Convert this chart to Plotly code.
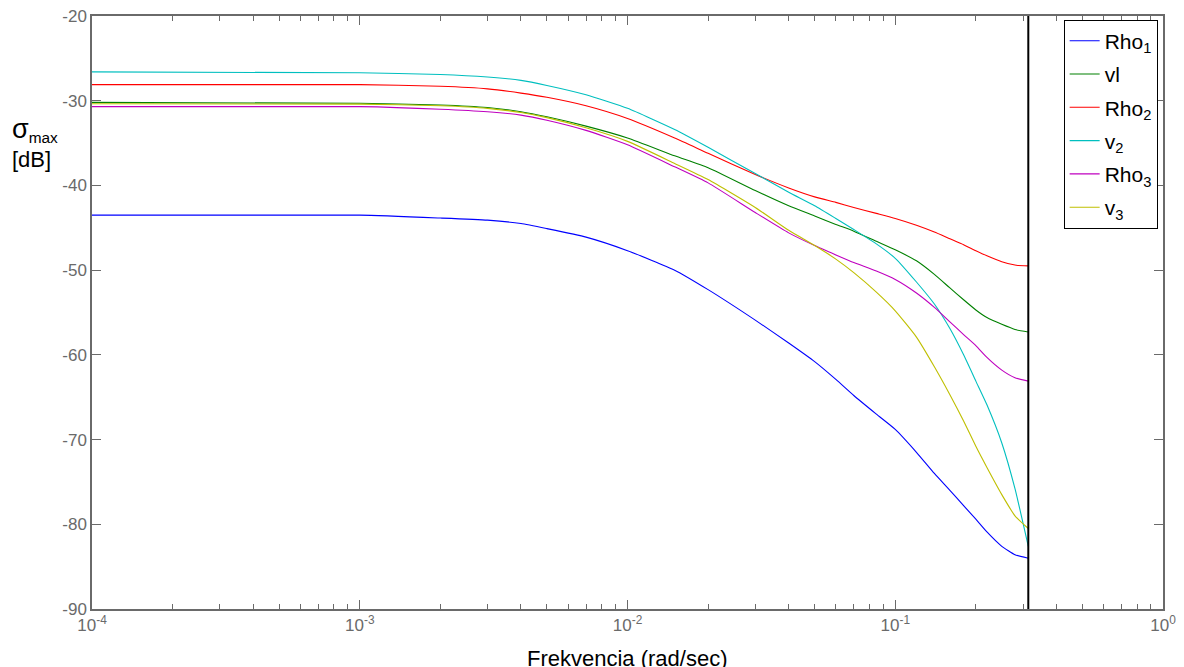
import plotly.graph_objects as go

freq = [1e-4, 1e-3, 2e-3, 3e-3, 4e-3, 5e-3, 7e-3, 1e-2, 1.5e-2, 2e-2, 3e-2, 4e-2,
        5e-2, 6e-2, 7e-2, 8.5e-2, 0.1, 0.12, 0.14, 0.16, 0.18, 0.2, 0.22, 0.25, 0.28, 0.314]

rho1 = [-43.5, -43.5, -43.85, -44.1, -44.5, -45.1, -46.1, -47.7, -50.0, -52.3, -55.9, -58.6,
        -60.8, -62.9, -64.8, -67.0, -68.8, -71.5, -74.0, -76.0, -77.8, -79.4, -80.9, -82.6, -83.6, -84.0]
v1 = [-30.2, -30.3, -30.5, -30.8, -31.3, -31.9, -33.0, -34.4, -36.5, -37.9, -40.6, -42.4,
      -43.6, -44.6, -45.4, -46.6, -47.6, -48.9, -50.5, -52.1, -53.5, -54.7, -55.6, -56.4, -57.0, -57.3]
rho2 = [-28.1, -28.1, -28.3, -28.6, -29.1, -29.6, -30.6, -32.1, -34.4, -36.2, -38.7, -40.3,
        -41.35, -42.0, -42.6, -43.3, -43.9, -44.7, -45.5, -46.3, -47.0, -47.7, -48.3, -49.0, -49.4, -49.5]
v2 = [-26.6, -26.7, -26.9, -27.2, -27.6, -28.2, -29.3, -30.9, -33.4, -35.5, -38.6, -40.8,
      -42.4, -43.9, -45.2, -46.9, -48.6, -51.4, -54.0, -56.9, -60.0, -63.1, -65.9, -70.4, -75.8, -82.6]
rho3 = [-30.7, -30.7, -31.0, -31.3, -31.7, -32.3, -33.5, -35.2, -37.8, -39.7, -43.2, -45.6,
        -47.1, -48.2, -49.1, -50.1, -51.1, -52.7, -54.4, -56.1, -57.6, -58.9, -60.3, -61.8, -62.7, -63.1]
v3 = [-30.35, -30.4, -30.6, -30.9, -31.4, -32.0, -33.2, -34.8, -37.4, -39.3, -42.6, -45.3,
      -47.1, -48.7, -50.3, -52.6, -54.8, -57.9, -61.4, -64.7, -67.8, -70.8, -73.3, -76.5, -79.0, -80.5]

series_names = ["Rho<sub>1</sub>", "vl", "Rho<sub>2</sub>", "v<sub>2</sub>", "Rho<sub>3</sub>", "v<sub>3</sub>"]
series_values = [rho1, v1, rho2, v2, rho3, v3]
series_colors = ["#0000FF", "#008000", "#FF0000", "#00BFBF", "#BF00BF", "#BFBF00"]

nyquist = 0.314
y_limits = [-90, -20]

x_tickvals = [1e-4, 1e-3, 1e-2, 1e-1, 1e0]
x_ticktext = ["10<sup>-4</sup>", "10<sup>-3</sup>", "10<sup>-2</sup>", "10<sup>-1</sup>", "10<sup>0</sup>"]
y_tickvals = [-90, -80, -70, -60, -50, -40, -30, -20]
y_ticktext = ["-90", "-80", "-70", "-60", "-50", "-40", "-30", "-20"]

fig = go.Figure()
for i, (name, vals, col) in enumerate(zip(series_names, series_values, series_colors)):
    fig.add_trace(go.Scatter(x=freq, y=vals, mode="lines", name=name,
                             legendgroup=f"g{i}",
                             line=dict(color=col, width=1.1, shape="spline", smoothing=0.5)))

fig.add_trace(go.Scatter(x=[nyquist, nyquist], y=y_limits, mode="lines",
                         line=dict(color="black", width=2), showlegend=False,
                         hoverinfo="skip"))

axis_gray = "#6a6a6a"
fig.update_layout(
    width=1176, height=659,
    margin=dict(l=84, r=21, t=8, b=58, autoexpand=False),
    plot_bgcolor="white", paper_bgcolor="white",
    font=dict(family="Liberation Sans, Arial, sans-serif", color=axis_gray, size=17),
    showlegend=True,
    legend=dict(x=0.995, xanchor="right", y=0.994, yanchor="top",
                bgcolor="white", bordercolor="black", borderwidth=1,
                font=dict(size=21, color="black"), tracegroupgap=3,
                itemwidth=30),
    xaxis=dict(type="log", range=[-4, 0], tickvals=x_tickvals, ticktext=x_ticktext,
               automargin=False, ticklabeloverflow="allow",
               ticks="inside", ticklen=9, tickcolor=axis_gray,
               showline=True, linecolor=axis_gray, linewidth=1.5, mirror="allticks",
               showgrid=False, zeroline=False,
               minor=dict(ticks="inside", ticklen=5, tickcolor=axis_gray, dtick="D1", showgrid=False),
               tickfont=dict(size=17, color=axis_gray)),
    yaxis=dict(range=y_limits, tickvals=y_tickvals, ticktext=y_ticktext,
               automargin=False, ticklabeloverflow="allow",
               ticks="inside", ticklen=9, tickcolor=axis_gray,
               showline=True, linecolor=axis_gray, linewidth=1.5, mirror="allticks",
               showgrid=False, zeroline=False,
               tickfont=dict(size=17, color=axis_gray)),
)

fig.add_annotation(text="<span style='font-size:27px'>σ</span><sub>max</sub><br>[dB]",
                   xref="paper", yref="paper",
                   x=-0.077, y=0.785, xanchor="left", yanchor="middle", align="left",
                   showarrow=False, font=dict(size=22, color="black"))
fig.add_annotation(text="Frekvencia (rad/sec)", xref="paper", yref="paper",
                   x=0.5, y=-0.084, xanchor="center", yanchor="middle",
                   showarrow=False, font=dict(size=22, color="black"))

fig.write_html("out.html")
